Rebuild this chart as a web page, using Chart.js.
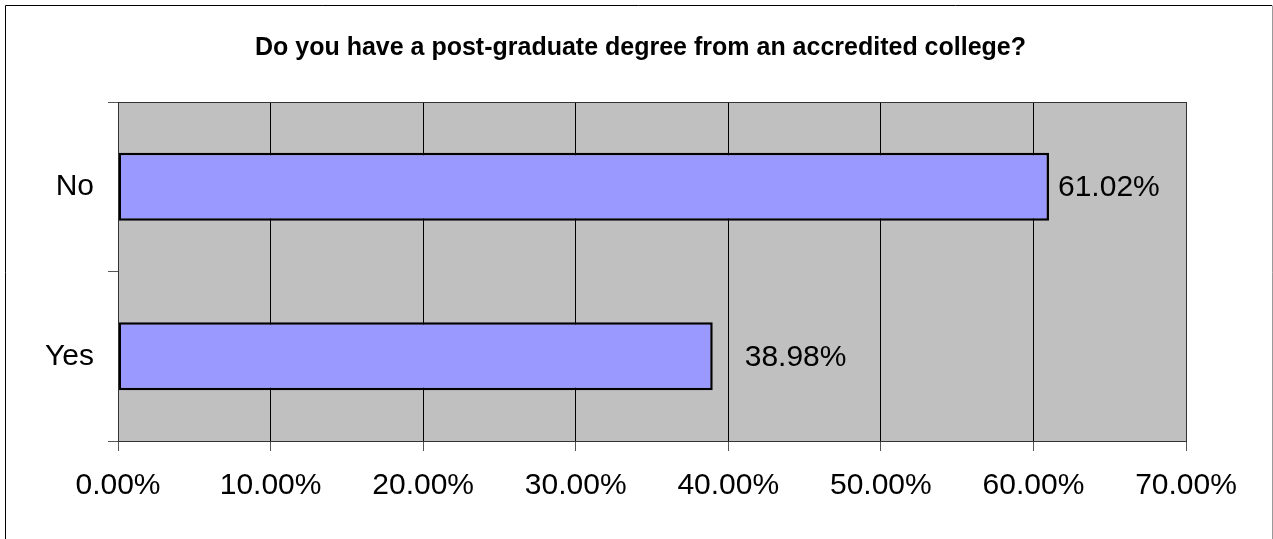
<!DOCTYPE html>
<html>
<head>
<meta charset="utf-8">
<script src="https://cdn.jsdelivr.net/npm/chart.js@4/dist/chart.umd.min.js"></script>
<style>
  body { margin: 0; background: #fff; }
  canvas { display: block; }
</style>
</head>
<body>
<canvas id="degreeChart" width="1273" height="539"></canvas>
<script>
// dữ liệu
const categories = ["No", "Yes"];
const shares = [0.6102, 0.3898];
const tickValues = [0, 0.1, 0.2, 0.3, 0.4, 0.5, 0.6, 0.7];
const chartTitle = "Do you have a post-graduate degree from an accredited college?";

const FONT = "Arial, 'Liberation Sans', sans-serif";

// nền xám + khung vùng vẽ + khung ngoài + tiêu đề
const plotFrame = {
  id: "plotFrame",
  beforeDraw(chart) {
    const { ctx, chartArea: a } = chart;
    ctx.save();
    ctx.fillStyle = "#C0C0C0";
    ctx.fillRect(a.left, a.top, a.right - a.left, a.bottom - a.top);
    ctx.restore();
  },
  afterDraw(chart, args, opts) {
    const { ctx, chartArea: a } = chart;
    ctx.save();
    ctx.strokeStyle = "#333";
    ctx.lineWidth = 1;
    ctx.strokeRect(a.left + 0.5, a.top + 0.5, a.right - a.left, a.bottom - a.top);
    // khung ngoài
    ctx.strokeStyle = "#000";
    ctx.beginPath();
    ctx.moveTo(5.5, 545);
    ctx.lineTo(5.5, 5.5);
    ctx.lineTo(1272, 5.5);
    ctx.stroke();
    ctx.strokeStyle = "#999";
    ctx.beginPath();
    ctx.moveTo(1272.5, 5.5);
    ctx.lineTo(1272.5, 545);
    ctx.stroke();
    // tiêu đề
    ctx.font = "bold 25px " + FONT;
    ctx.fillStyle = "#000";
    ctx.textAlign = "center";
    ctx.textBaseline = "middle";
    ctx.fillText(opts.text, chart.width / 2 + 4, 48);
    ctx.restore();
  }
};

// nhãn giá trị cạnh mỗi thanh
const valueLabels = {
  id: "valueLabels",
  afterDatasetsDraw(chart, args, opts) {
    const { ctx } = chart;
    const meta = chart.getDatasetMeta(0);
    ctx.save();
    ctx.font = "30px " + FONT;
    ctx.fillStyle = "#000";
    ctx.textBaseline = "middle";
    meta.data.forEach((bar, i) => {
      const txt = (shares[i] * 100).toFixed(2) + "%";
      ctx.fillText(txt, bar.x + opts.gap[i], bar.y + 1);
    });
    ctx.restore();
  }
};

const ctx = document.getElementById("degreeChart").getContext("2d");
new Chart(ctx, {
  type: "bar",
  data: {
    labels: categories,
    datasets: [{
      data: shares,
      backgroundColor: "#9999FF",
      borderColor: "#000",
      borderWidth: 2.5,
      borderSkipped: false,
      categoryPercentage: 0.4,
      barPercentage: 1
    }]
  },
  options: {
    indexAxis: "y",
    responsive: false,
    animation: false,
    layout: { padding: { left: 0, right: 87, top: 102, bottom: 0 } },
    plugins: {
      legend: { display: false },
      tooltip: { enabled: false },
      title: { display: false },
      plotFrame: { text: chartTitle },
      valueLabels: { gap: [9, 32] }
    },
    scales: {
      x: {
        min: 0,
        max: 0.7,
        afterBuildTicks(scale) {
          scale.ticks = tickValues.map((v) => ({ value: v }));
        },
        afterFit(scale) { scale.height = 98; },
        ticks: {
          color: "#000",
          font: { family: FONT, size: 30 },
          padding: 17,
          maxRotation: 0,
          callback: (v) => (v * 100).toFixed(2) + "%"
        },
        grid: { color: "#000", lineWidth: 1, tickLength: 10, tickColor: "#555" },
        border: { display: true, color: "#333" }
      },
      y: {
        afterFit(scale) { scale.width = 118; },
        ticks: {
          color: "#000",
          font: { family: FONT, size: 30 },
          padding: 14
        },
        grid: { drawOnChartArea: false, drawTicks: true, tickLength: 10, tickColor: "#555", offset: true },
        border: { display: true, color: "#333" }
      }
    }
  },
  plugins: [plotFrame, valueLabels]
});
</script>
</body>
</html>
